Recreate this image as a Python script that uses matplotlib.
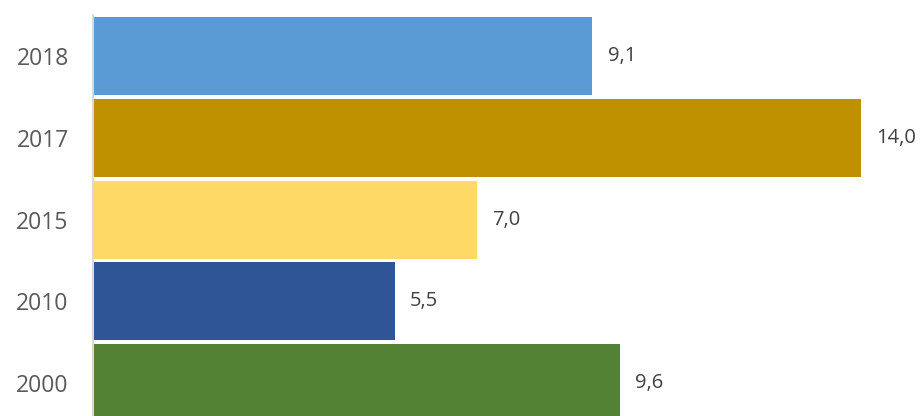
import matplotlib.pyplot as plt

years = ['2000', '2010', '2015', '2017', '2018']
values = [9.6, 5.5, 7.0, 14.0, 9.1]
colors = ['#548235', '#2F5597', '#FFD966', '#BF9000', '#5B9BD5']

plt.rcParams['font.family'] = ['Open Sans', 'DejaVu Sans']

fig = plt.figure(figsize=(9.23, 4.16), dpi=100)
ax = fig.add_axes([93 / 923, 0, 1 - 93 / 923, 1 - 15 / 416])

pos = list(range(len(years)))
bars = ax.barh(pos, values, height=0.954, color=colors, edgecolor='none')

for y, v in zip(pos, values):
    ax.text(v + 0.28, y, f'{v:.1f}'.replace('.', ','), va='center', ha='left',
            fontsize=14.5, color='#404040')

ax.set_xlim(0, 15.13)
ax.set_ylim(-0.40, 4.50)
ax.set_yticks(pos)
ax.set_yticklabels(years, fontsize=16.5, color='#595959')
ax.tick_params(axis='y', length=0, pad=17.5)
ax.set_xticks([])

for s in ['top', 'right', 'bottom']:
    ax.spines[s].set_visible(False)
ax.spines['left'].set_color('#D9D9D9')
ax.spines['left'].set_linewidth(1.5)

fig.savefig('out.png', dpi=100)
